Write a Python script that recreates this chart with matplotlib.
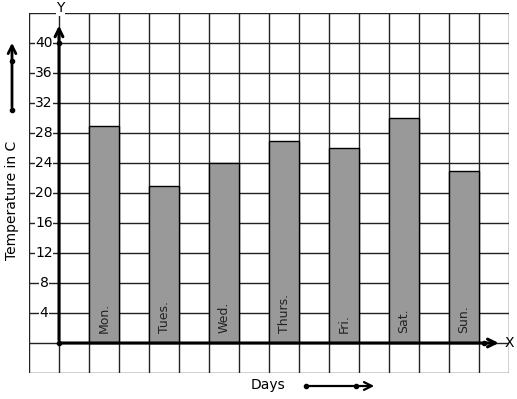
import numpy as np
import matplotlib
matplotlib.use("Agg")
import matplotlib.pyplot as plt

# data
days = ["Mon.", "Tues.", "Wed.", "Thurs.", "Fri.", "Sat.", "Sun."]
temps = [29, 21, 24, 27, 26, 30, 23]
y_ticks = [4, 8, 12, 16, 20, 24, 28, 32, 36, 40]

W, H = 517, 399


def main():
    fig = plt.figure(figsize=(W / 100, H / 100), dpi=100)
    # grid box spans pixels x 29..509, y 13..373 (from top)
    ax = fig.add_axes([29 / W, (H - 373) / H, 480 / W, 360 / H])
    ax.set_xlim(-1, 15)
    ax.set_ylim(-4, 44)
    ax.axis("off")

    # square grid, one cell = 1 column / 4 degrees
    for gx in range(-1, 16):
        ax.plot([gx, gx], [-4, 44], color="#222222", lw=1, zorder=1)
    for gy in range(-4, 45, 4):
        ax.plot([-1, 15], [gy, gy], color="#222222", lw=1, zorder=1)

    # bars, every other column starting at 1
    xs = np.arange(len(days)) * 2 + 1.5
    ax.bar(xs, temps, width=1, color="#999999", edgecolor="black",
           linewidth=1, zorder=2)
    for x, d in zip(xs, days):
        ax.text(x, 1.3, d, rotation=90, ha="center", va="bottom",
                fontsize=9, color="#222222", zorder=3)

    # axes with arrows
    ax.annotate("", xy=(14.75, 0), xytext=(0, 0),
                arrowprops=dict(arrowstyle="->", lw=2.2, color="black",
                                mutation_scale=14), zorder=4)
    ax.annotate("", xy=(0, 42.7), xytext=(0, 0),
                arrowprops=dict(arrowstyle="->", lw=2.2, color="black",
                                mutation_scale=14), zorder=4)
    ax.plot([0, 0, 14.15], [0, 40, 0], "o", color="black", ms=3, zorder=5)
    ax.text(15.0, 0, "X", ha="center", va="center", fontsize=10)
    ax.text(0.05, 44.6, "Y", ha="center", va="center", fontsize=10,
            bbox=dict(facecolor="white", edgecolor="none", pad=0.5),
            clip_on=False, zorder=6)

    for t in y_ticks:
        ax.text(-0.5, t, str(t), ha="center", va="center", fontsize=10,
                bbox=dict(facecolor="white", edgecolor="none", pad=0.3),
                zorder=3)

    # axis titles with their decorative arrows
    fig.text(12 / W, 1 - 200 / H, "Temperature in C", rotation=90,
             ha="center", va="center", fontsize=10)
    fig.text(268 / W, 1 - 385 / H, "Days", ha="center", va="center",
             fontsize=10)
    ax.annotate("", xy=(12, H - 40), xytext=(12, H - 110),
                xycoords="figure pixels", textcoords="figure pixels",
                arrowprops=dict(arrowstyle="->", lw=2, color="black",
                                mutation_scale=14))
    ax.annotate("", xy=(377, H - 386), xytext=(305, H - 386),
                xycoords="figure pixels", textcoords="figure pixels",
                arrowprops=dict(arrowstyle="->", lw=1.6, color="black",
                                mutation_scale=14))
    for px, py in [(12, 110), (12, 61), (306, 386), (356, 386)]:
        fig.lines.append(plt.Line2D([px / W], [1 - py / H], marker="o",
                                    ms=3, color="black",
                                    transform=fig.transFigure))

    fig.savefig("out.png", dpi=100)


if __name__ == "__main__":
    main()
